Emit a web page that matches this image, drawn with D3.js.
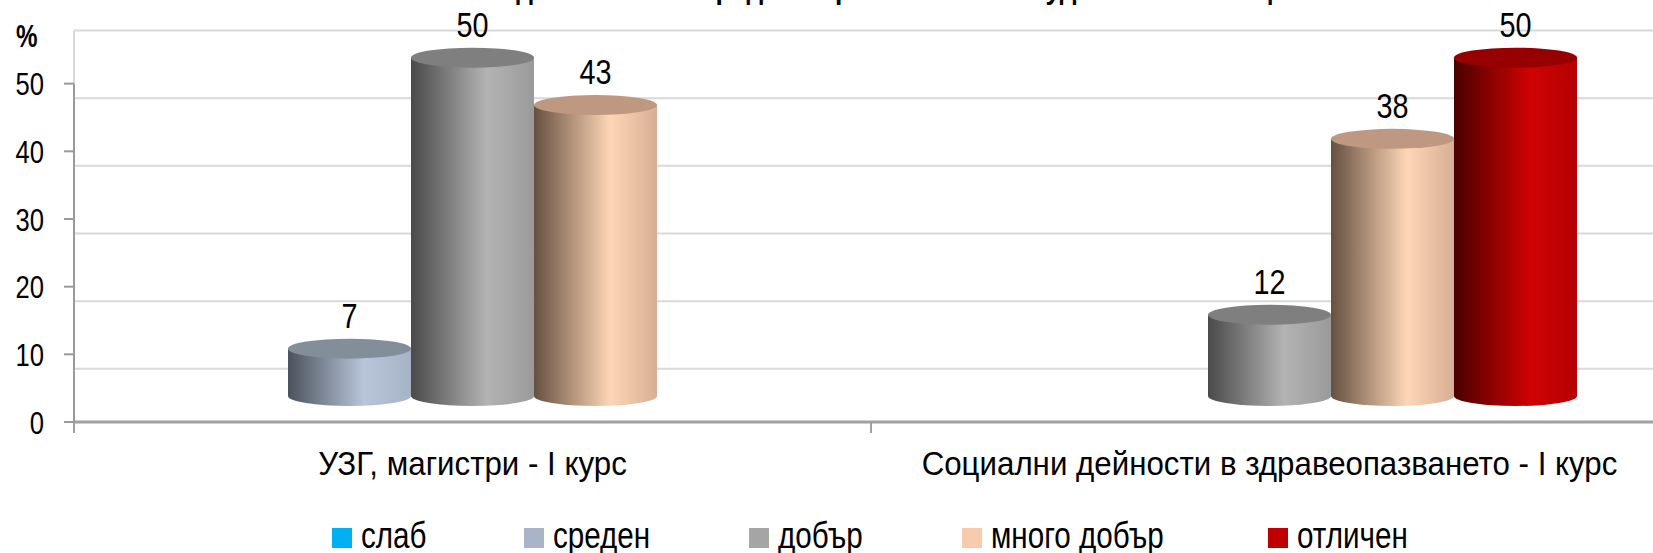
<!DOCTYPE html>
<html><head><meta charset="utf-8">
<script src="https://cdn.jsdelivr.net/npm/d3@7"></script>
<style>html,body{margin:0;padding:0;background:#fff;overflow:hidden}</style>
</head><body><svg id="c" width="1653" height="553"></svg>
<script>
// ---- data ----
const categories = ["УЗГ, магистри - I курс", "Социални дейности в здравеопазването - I курс"];
const seriesNames = ["слаб", "среден", "добър", "много добър", "отличен"];
const slab = [0, 0];
const sreden = [7, 0];
const dobar = [50, 12];
const mnogoDobar = [43, 38];
const otlichen = [0, 50];
const yTicks = [0, 10, 20, 30, 40, 50];
const gridValues = [10, 20, 30, 40, 50, 60];
const yUnit = "%";
const titleText = "Успех от дипломата за средно образование на студентите по специалности";

const seriesValues = [slab, sreden, dobar, mnogoDobar, otlichen];

// ---- styles ----
const legendColors = ["#00b0f0", "#aab4c8", "#a5a5a5", "#f8cbad", "#c00000"];
const gradStops = [
  ["#005a7a", "#33c4f5", "#10b0e8"],
  ["#4a525c", "#b9c5d9", "#a6b2c6"],
  ["#4a4a4a", "#b3b3b3", "#9a9a9a"],
  ["#665040", "#fdd6b6", "#d8ae94"],
  ["#4a0000", "#cf0303", "#b50000"]
];
const topColors = ["#0090c8", "#838e9b", "#7f7f7f", "#bf9882", "#960000"];
const FONT = "'Liberation Sans', Arial, sans-serif";

const W = 1653, H = 553;
const svg = d3.select("#c");
const defs = svg.append("defs");

const y = d3.scaleLinear().domain([0, 60]).range([422, 16]);
const x0 = d3.scaleBand().domain(categories).range([74, 1668]);
const x1 = d3.scaleBand().domain(seriesNames).range([0, x0.bandwidth()]).paddingInner(0).paddingOuter(0.74);

const barShift = -26;   // 3D depth offset of bars
const gridShift = 14.5; // back wall offset
const ry = 10;

function txt(g, x, yy, s, size, sx, anchor, weight) {
  return g.append("text")
    .attr("transform", `translate(${x},${yy}) scale(${sx},1)`)
    .attr("text-anchor", anchor || "middle")
    .attr("font-family", FONT)
    .attr("font-size", size)
    .attr("font-weight", weight || "normal")
    .attr("fill", "#000")
    .text(s);
}

// gradients
seriesNames.forEach((s, i) => {
  const g = defs.append("linearGradient").attr("id", "g" + i)
    .attr("x1", "0%").attr("x2", "100%").attr("y1", "0%").attr("y2", "0%");
  g.append("stop").attr("offset", "0%").attr("stop-color", gradStops[i][0]);
  g.append("stop").attr("offset", "62%").attr("stop-color", gradStops[i][1]);
  g.append("stop").attr("offset", "100%").attr("stop-color", gradStops[i][2]);
});

// title (cut off at top)
txt(svg, 897, -1, titleText, 30, 0.88, "middle", "bold");

// gridlines (back wall)
svg.append("g").selectAll("line").data(gridValues).join("line")
  .attr("x1", 74).attr("x2", W)
  .attr("y1", d => y(d) + gridShift).attr("y2", d => y(d) + gridShift)
  .attr("stroke", "#d9d9d9").attr("stroke-width", 2);
svg.append("line").attr("x1", 74).attr("x2", 74)
  .attr("y1", y(60) + gridShift).attr("y2", y(0))
  .attr("stroke", "#d9d9d9").attr("stroke-width", 2);

// floor line and axis
svg.append("line").attr("x1", 74).attr("x2", W).attr("y1", y(0)).attr("y2", y(0))
  .attr("stroke", "#a0a0a0").attr("stroke-width", 3);
svg.append("line").attr("x1", 74).attr("x2", 74).attr("y1", y(50)).attr("y2", y(0) + 11)
  .attr("stroke", "#9a9a9a").attr("stroke-width", 2);
svg.append("g").selectAll("line").data(yTicks).join("line")
  .attr("x1", 64).attr("x2", 74).attr("y1", d => y(d)).attr("y2", d => y(d))
  .attr("stroke", "#9a9a9a").attr("stroke-width", 2);
// category separators
const bounds = categories.map(c => x0(c)).concat([x0(categories[categories.length - 1]) + x0.bandwidth()]);
svg.append("g").selectAll("line").data(bounds).join("line")
  .attr("x1", d => d).attr("x2", d => d).attr("y1", y(0)).attr("y2", y(0) + 11)
  .attr("stroke", "#a0a0a0").attr("stroke-width", 2);

// y tick labels
const yl = svg.append("g");
yTicks.forEach(v => txt(yl, 44, y(v) + 11.5, String(v), 32, 0.8, "end"));
txt(yl, 16, 47, yUnit, 31, 0.78, "start", "bold");

// bars (cylinders)
const bars = svg.append("g");
const labels = svg.append("g");
categories.forEach((c, ci) => {
  seriesNames.forEach((s, si) => {
    const v = seriesValues[si][ci];
    if (!v) return;
    const left = x0(c) + x1(s);
    const w = x1.bandwidth();
    const rx = w / 2;
    const cx = left + rx;
    const yb = y(0) + barShift;
    const yt = y(v) + barShift;
    bars.append("path")
      .attr("d", `M${left},${yt} L${left},${yb} A${rx},${ry} 0 0 0 ${left + w},${yb} L${left + w},${yt} Z`)
      .attr("fill", `url(#g${si})`);
    bars.append("ellipse").attr("cx", cx).attr("cy", yt).attr("rx", rx).attr("ry", ry)
      .attr("fill", topColors[si]);
    txt(labels, cx, yt - ry - 11, String(v), 36, 0.8, "middle");
  });
});

// category labels
const cl = svg.append("g");
categories.forEach(c => txt(cl, x0(c) + x0.bandwidth() / 2, 475, c, 34, 0.92, "middle"));

// legend
const legendX = [332, 524, 749, 962, 1268];
const lg = svg.append("g");
seriesNames.forEach((s, i) => {
  lg.append("rect").attr("x", legendX[i]).attr("y", 528).attr("width", 20).attr("height", 20)
    .attr("fill", legendColors[i]);
  txt(lg, legendX[i] + 29, 548, s, 37, 0.8, "start");
});
</script>
</body></html>
